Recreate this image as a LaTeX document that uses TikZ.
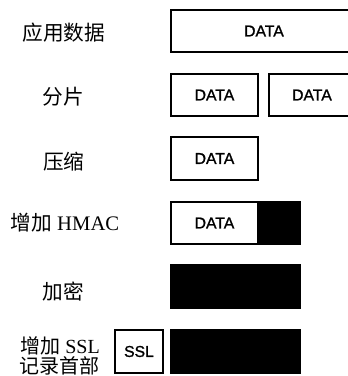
\documentclass[tikz,border=0pt]{standalone}
\usepackage{fontspec}
\setmainfont{Liberation Serif}
\newfontfamily\cjk{Noto Sans CJK SC}
\newfontfamily\boxfont{Liberation Sans}[FakeBold=1.2]
\begin{document}
\begin{tikzpicture}[x=0.75pt,y=-0.75pt,
  pkt/.style={draw=black,line width=1.3pt,fill=white,inner sep=0pt},
  blk/.style={draw=black,line width=1.3pt,fill=black,inner sep=0pt},
  txt/.style={inner sep=0pt,font=\boxfont\fontsize{11.8pt}{13pt}\selectfont},
  lbl/.style={inner sep=0pt,align=center,font=\fontsize{15.5pt}{16pt}\selectfont}]
\useasboundingbox (0,0) rectangle (348,376);
% labels
\node[lbl] (l1) at (64,33) {\cjk 应用数据};
\node[lbl] (l2) at (63,97) {\cjk 分片};
\node[lbl] (l3) at (64,162) {\cjk 压缩};
\node[lbl] (l4) at (65,223) {{\cjk 增加} HMAC};
\node[lbl] (l5) at (63,292) {\cjk 加密};
\node[lbl,font=\fontsize{15pt}{15.5pt}\selectfont] (l6) at (60,356) {{\cjk 增加} SSL\\{\cjk 记录首部}};
% row 1
\draw[pkt] (171,10) rectangle (349,52);
\node[txt] (d1) at (264,31) {DATA};
% row 2
\draw[pkt] (171,74) rectangle (258,116);
\node[txt] (d2) at (214.5,95) {DATA};
\draw[pkt] (269,74) rectangle (349,116);
\node[txt] (d3) at (312,95) {DATA};
% row 3
\draw[pkt] (171,137) rectangle (258,180);
\node[txt] (d4) at (214.5,158.5) {DATA};
% row 4
\draw[pkt] (171,202) rectangle (258,244);
\node[txt] (d5) at (214.5,223) {DATA};
\draw[blk] (258,202) rectangle (300,244);
% row 5
\draw[blk] (171,265) rectangle (300,308);
% row 6
\draw[pkt] (115,330) rectangle (163,373);
\node[txt] (s1) at (139,351.5) {SSL};
\draw[blk] (171,330) rectangle (300,373);
\end{tikzpicture}
\end{document}
